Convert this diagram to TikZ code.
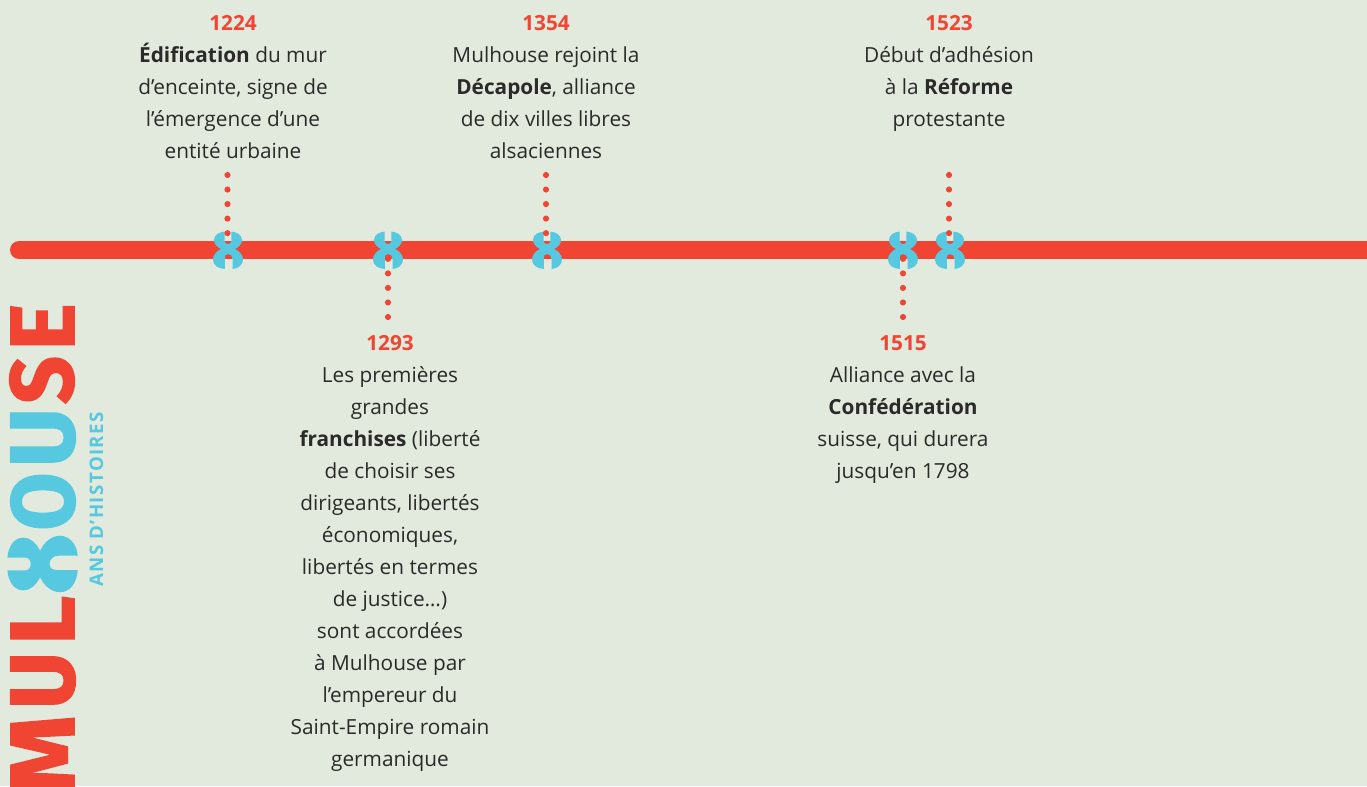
\documentclass[tikz,border=0pt]{standalone}
\usepackage{fontspec}
\usepackage{graphicx}
\setmainfont{Open Sans}
\newfontfamily\logofont[BoldFont={Fira Sans Bold},BoldFeatures={FakeBold=1.6}]{Fira Sans}
\newfontfamily\subfont[LetterSpace=7.5]{Open Sans}
\definecolor{bgc}{HTML}{E2E9DD}
\definecolor{redc}{HTML}{F04532}
\definecolor{bluec}{HTML}{56C8E0}
\definecolor{inkc}{HTML}{2A2A2A}
\tikzset{
  px/.style={x=0.75pt,y=-0.75pt},
  eventtext/.style={anchor=north,inner sep=0pt,align=center,text=inkc,font=\fontsize{15.6}{24}\selectfont},
  dotline/.style={draw=redc,line width=4.6pt,line cap=round,dash pattern=on 0pt off 10.9pt},
  eightshape/.style={fill=bluec,draw=none},
  logored/.style={text=redc,inner sep=0pt,rotate=90,font=\logofont\bfseries},
  logoblue/.style={text=bluec,inner sep=0pt,rotate=90,font=\logofont\bfseries}
}
\newcommand{\yr}[1]{{\bfseries\color{redc}#1}}
\newcommand{\logoch}[2]{\resizebox{\dimexpr 0.75pt*#1\relax}{47.5pt}{#2}}
\newcommand{\eightpath}{
  (-7,-1) .. controls (-11,-3) and (-14,-6) .. (-14,-10)
  .. controls (-14,-15) and (-9,-18) .. (-3.4,-18.4)
  -- (-3.4,-9) .. controls (-3.4,-7) and (-1.8,-6) .. (0,-6)
  .. controls (1.8,-6) and (3.4,-7) .. (3.4,-9)
  -- (3.4,-18.4) .. controls (9,-18) and (14,-15) .. (14,-10)
  .. controls (14,-6) and (11,-3) .. (7,-1)
  .. controls (11.5,1) and (15,5) .. (15,9.5)
  .. controls (15,15) and (10,18.6) .. (4.5,19)
  -- (4.5,9) .. controls (4.5,6) and (2.5,4) .. (0,4)
  .. controls (-2.5,4) and (-3.2,6) .. (-3.2,8)
  -- (-3.2,19) .. controls (-10,18.6) and (-15,15) .. (-15,9.5)
  .. controls (-15,5) and (-11.5,1) .. (-7,-1) -- cycle
}
\begin{document}
\begin{tikzpicture}[px]
\useasboundingbox (0,0) rectangle (1367,786);
\clip (0,0) rectangle (1367,786);
\fill[bgc] (0,0) rectangle (1367,786);
% timeline
\coordinate (barL) at (19,250);
\coordinate (barR) at (1390,250);
\draw[redc,line width=13.5pt,line cap=round] (barL) -- (barR);
% markers
\coordinate (m1) at (228,250);
\coordinate (m2) at (388,250);
\coordinate (m3) at (547,250);
\coordinate (m4) at (903,250);
\coordinate (m5) at (950,250);
\foreach \m in {m1,m2,m3,m4,m5}{
  \begin{scope}[shift={(\m)}]
    \fill[eightshape] \eightpath;
  \end{scope}
}
% connector ends
\coordinate (d1) at (227.5,175);
\coordinate (e1) at (227.5,234);
\coordinate (d2) at (388,317);
\coordinate (e2) at (388,258);
\coordinate (d3) at (546,175);
\coordinate (e3) at (546,234);
\coordinate (d4) at (903,317);
\coordinate (e4) at (903,258);
\coordinate (d5) at (949,175);
\coordinate (e5) at (949,234);
\foreach \a/\b in {d1/e1,d2/e2,d3/e3,d4/e4,d5/e5}{
  \draw[dotline] (\a) -- (\b);
}
% events
\node[eventtext] (t1224) at (233,15.5) {\yr{1224}\\\textbf{Édification} du mur\\d’enceinte, signe de\\l’émergence d’une\\entité urbaine};
\node[eventtext] (t1354) at (546,15.5) {\yr{1354}\\Mulhouse rejoint la\\\textbf{Décapole}, alliance\\de dix villes libres\\alsaciennes};
\node[eventtext] (t1523) at (949,15.5) {\yr{1523}\\Début d’adhésion\\à la \textbf{Réforme}\\protestante};
\node[eventtext] (t1293) at (390,335.5) {\yr{1293}\\Les premières\\grandes\\\textbf{franchises} (liberté\\de choisir ses\\dirigeants, libertés\\économiques,\\libertés en termes\\de justice…)\\sont accordées\\à Mulhouse par\\l’empereur du\\Saint-Empire romain\\germanique};
\node[eventtext] (t1515) at (903,335.5) {\yr{1515}\\Alliance avec la\\\textbf{Confédération}\\suisse, qui durera\\jusqu’en 1798};
% logo
\node[logored] (lE) at (42.5,327) {\logoch{47}{E}};
\node[logored] (lS) at (42,380) {\logoch{48}{S}};
\node[logoblue] (lU) at (43,437.5) {\logoch{59}{U}};
\node[logoblue] (lO) at (43,501.5) {\logoch{58}{O}};
\begin{scope}[shift={(42,564)},rotate=90,scale=1.88]
  \fill[eightshape] \eightpath;
\end{scope}
\node[logored] (lL) at (42.5,620.5) {\logoch{49}{L}};
\node[logored] (lU2) at (43,680.5) {\logoch{57}{U}};
\node[logored] (lM) at (42.5,755) {\logoch{80}{M}};
\node[logoblue,font=\subfont\bfseries\fontsize{14}{16}\selectfont] (sub) at (96.5,499.5) {ANS D’HISTOIRES};
\end{tikzpicture}
\end{document}
